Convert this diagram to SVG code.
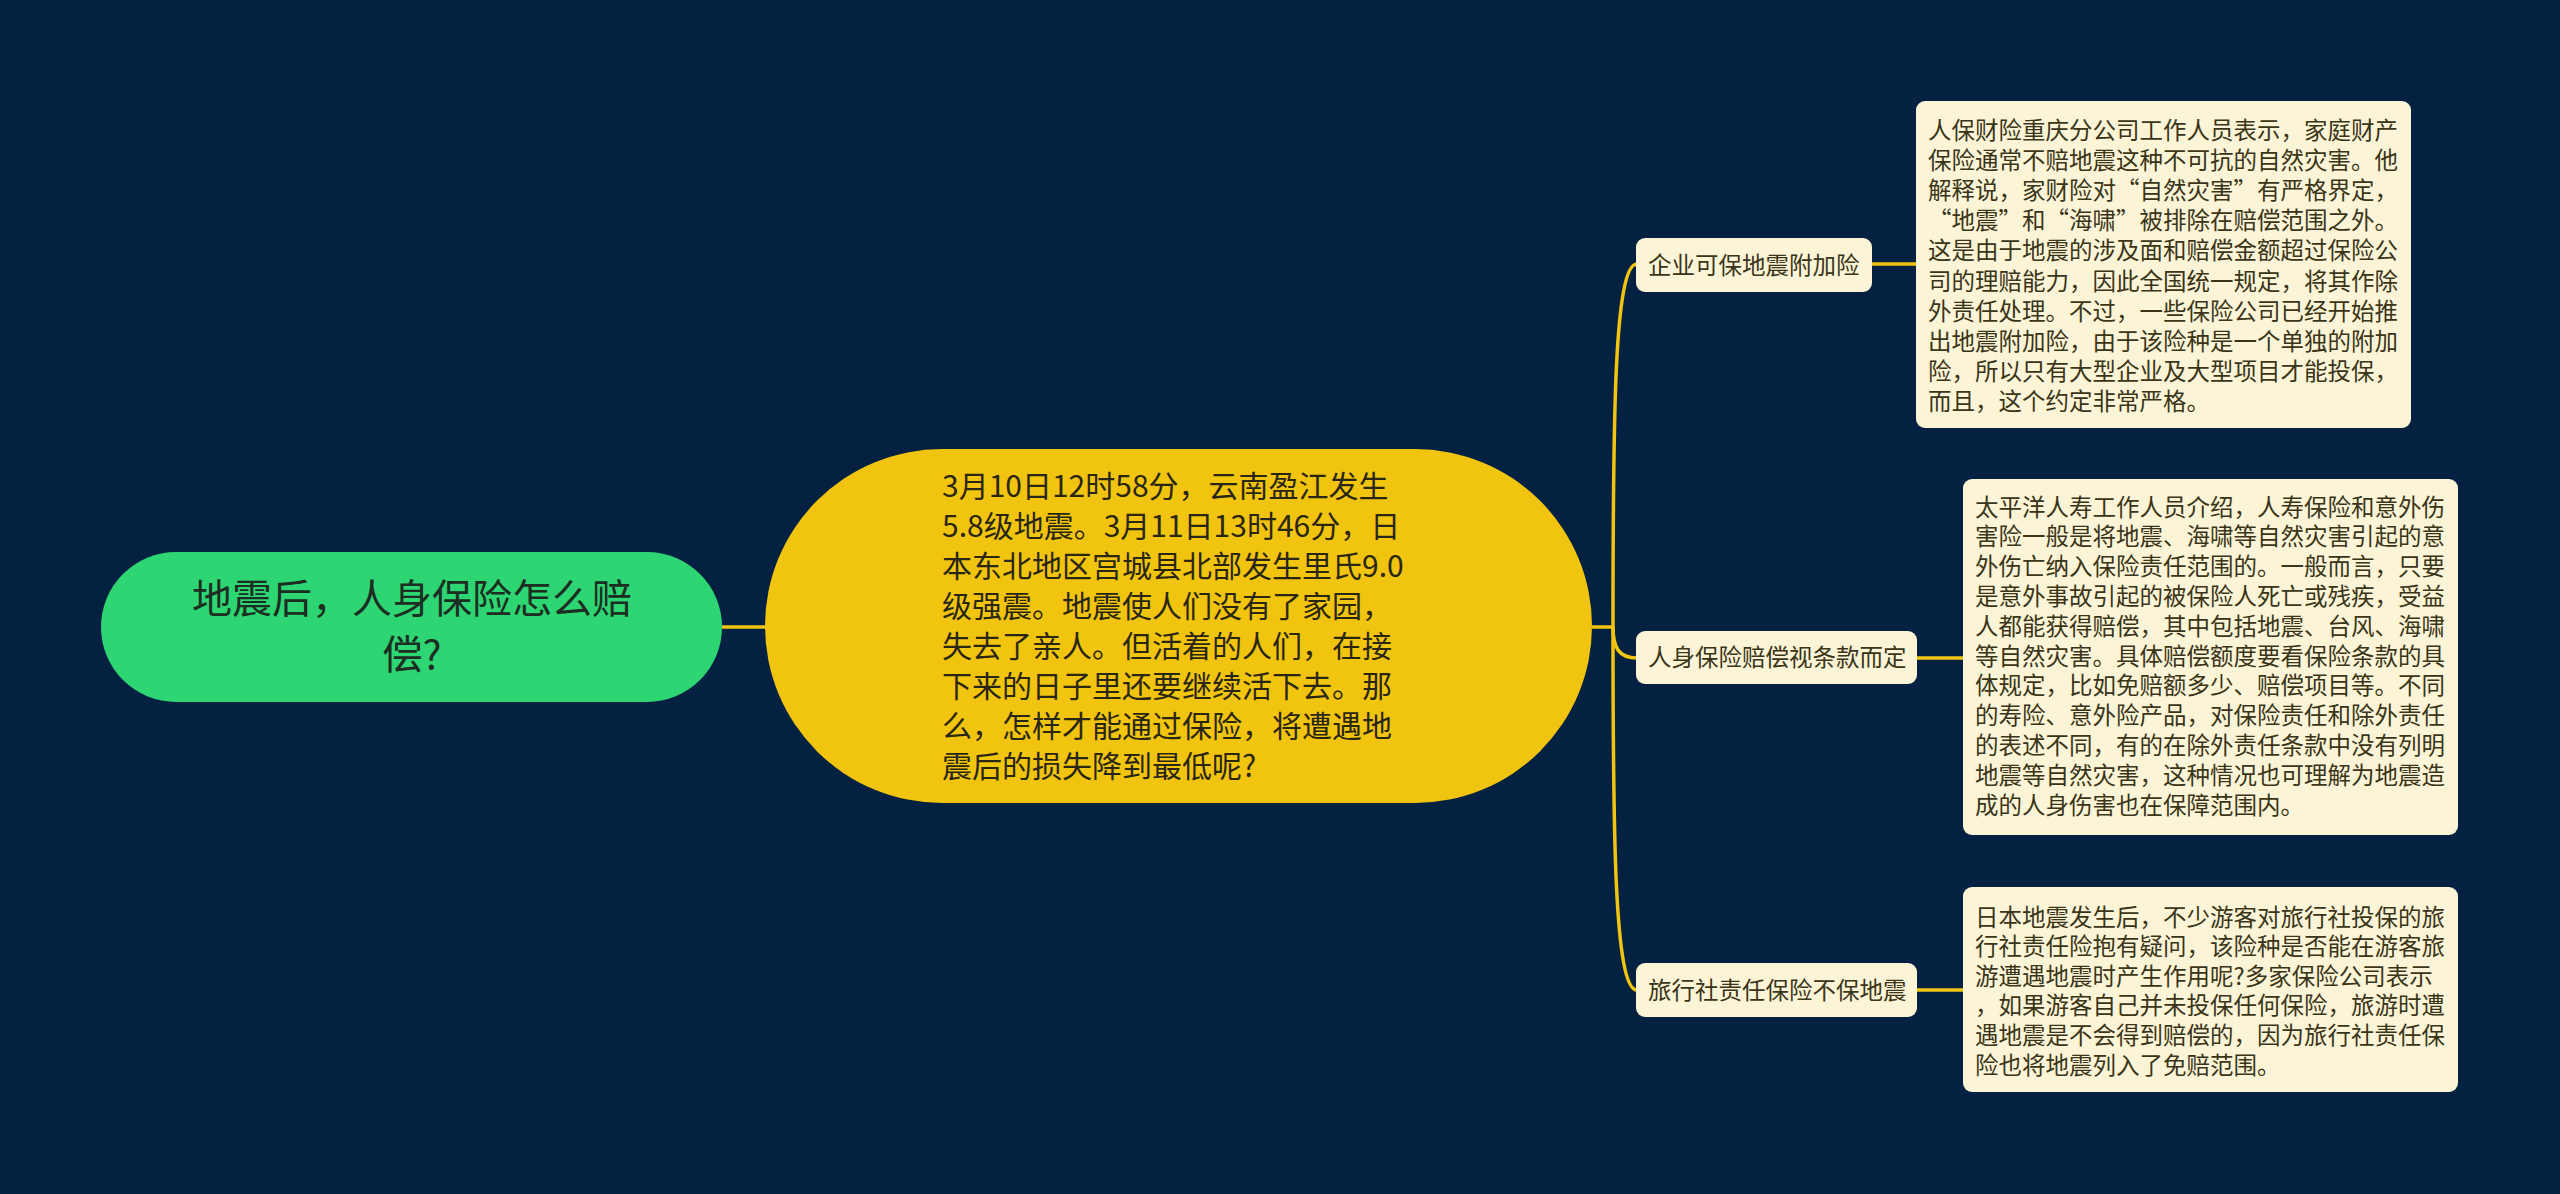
<svg xmlns="http://www.w3.org/2000/svg" width="2560" height="1194" viewBox="0 0 2560 1194">
<style>
text{font-family:"Noto Sans CJK SC","Noto Sans",sans-serif}
.conn{fill:none;stroke:#f1c40f;stroke-width:3.5}
.root{fill:#2ed573}
.rt{font-size:40px;fill:#1c2e22;text-anchor:middle}
.center{fill:#f1c40f}
.ct{font-size:30px;fill:#2a2614}
.box{fill:#fcf4d6}
.bt{font-size:23.5px;fill:#3a3418}
</style>
<rect x="0" y="0" width="2560" height="1194" fill="#042141"/>
<g id="connectors">
<path class="conn" d="M722,627 L767,627"/>
<path class="conn" d="M1592,627 L1613,627"/>
<path class="conn" d="M1613,627 C1613,420 1614,264 1637,264"/>
<path class="conn" d="M1613,627 C1613,648 1619,658 1637,658"/>
<path class="conn" d="M1613,627 C1613,830 1614,990 1637,990"/>
<path class="conn" d="M1872,264 L1916,264"/>
<path class="conn" d="M1917,658 L1963,658"/>
<path class="conn" d="M1917,990 L1963,990"/>
</g>
<g id="root">
<rect class="root" x="101" y="552" width="621" height="150" rx="75"/>
<text class="rt" x="412" y="613">地震后，人身保险怎么赔</text>
<text class="rt" x="412" y="669">偿?</text>
</g>
<g id="center">
<rect class="center" x="765" y="449" width="827" height="354" rx="177"/>
<text class="ct" x="942" y="497">3月10日12时58分，云南盈江发生</text>
<text class="ct" x="942" y="537">5.8级地震。3月11日13时46分，日</text>
<text class="ct" x="942" y="577">本东北地区宫城县北部发生里氏9.0</text>
<text class="ct" x="942" y="617">级强震。地震使人们没有了家园，</text>
<text class="ct" x="942" y="657">失去了亲人。但活着的人们，在接</text>
<text class="ct" x="942" y="697">下来的日子里还要继续活下去。那</text>
<text class="ct" x="942" y="737">么，怎样才能通过保险，将遭遇地</text>
<text class="ct" x="942" y="777">震后的损失降到最低呢?</text>
</g>
<g id="branch1">
<rect class="box" x="1636" y="238" width="236" height="54" rx="9"/>
<text class="bt" x="1648" y="273.5">企业可保地震附加险</text>
</g>
<g id="branch2">
<rect class="box" x="1636" y="631" width="281" height="53" rx="9"/>
<text class="bt" x="1648" y="666">人身保险赔偿视条款而定</text>
</g>
<g id="branch3">
<rect class="box" x="1636" y="963" width="281" height="54" rx="9"/>
<text class="bt" x="1648" y="998.5">旅行社责任保险不保地震</text>
</g>
<g id="detail1">
<rect class="box" x="1916" y="101" width="495" height="327" rx="9"/>
<text class="bt" x="1928" y="138.5">人保财险重庆分公司工作人员表示，家庭财产</text>
<text class="bt" x="1928" y="168.7">保险通常不赔地震这种不可抗的自然灾害。他</text>
<text class="bt" x="1928" y="198.9">解释说，家财险对“自然灾害”有严格界定，</text>
<text class="bt" x="1928" y="229.1">“地震”和“海啸”被排除在赔偿范围之外。</text>
<text class="bt" x="1928" y="259.3">这是由于地震的涉及面和赔偿金额超过保险公</text>
<text class="bt" x="1928" y="289.5">司的理赔能力，因此全国统一规定，将其作除</text>
<text class="bt" x="1928" y="319.7">外责任处理。不过，一些保险公司已经开始推</text>
<text class="bt" x="1928" y="349.9">出地震附加险，由于该险种是一个单独的附加</text>
<text class="bt" x="1928" y="380.1">险，所以只有大型企业及大型项目才能投保，</text>
<text class="bt" x="1928" y="410.3">而且，这个约定非常严格。</text>
</g>
<g id="detail2">
<rect class="box" x="1963" y="479" width="495" height="356" rx="9"/>
<text class="bt" x="1975" y="515.5">太平洋人寿工作人员介绍，人寿保险和意外伤</text>
<text class="bt" x="1975" y="545.3">害险一般是将地震、海啸等自然灾害引起的意</text>
<text class="bt" x="1975" y="575.1">外伤亡纳入保险责任范围的。一般而言，只要</text>
<text class="bt" x="1975" y="604.9">是意外事故引起的被保险人死亡或残疾，受益</text>
<text class="bt" x="1975" y="634.7">人都能获得赔偿，其中包括地震、台风、海啸</text>
<text class="bt" x="1975" y="664.5">等自然灾害。具体赔偿额度要看保险条款的具</text>
<text class="bt" x="1975" y="694.3">体规定，比如免赔额多少、赔偿项目等。不同</text>
<text class="bt" x="1975" y="724.1">的寿险、意外险产品，对保险责任和除外责任</text>
<text class="bt" x="1975" y="753.9">的表述不同，有的在除外责任条款中没有列明</text>
<text class="bt" x="1975" y="783.7">地震等自然灾害，这种情况也可理解为地震造</text>
<text class="bt" x="1975" y="813.5">成的人身伤害也在保障范围内。</text>
</g>
<g id="detail3">
<rect class="box" x="1963" y="887" width="495" height="205" rx="9"/>
<text class="bt" x="1975" y="925.5">日本地震发生后，不少游客对旅行社投保的旅</text>
<text class="bt" x="1975" y="955.1">行社责任险抱有疑问，该险种是否能在游客旅</text>
<text class="bt" x="1975" y="984.7">游遭遇地震时产生作用呢?多家保险公司表示</text>
<text class="bt" x="1975" y="1014.3">，如果游客自己并未投保任何保险，旅游时遭</text>
<text class="bt" x="1975" y="1043.9">遇地震是不会得到赔偿的，因为旅行社责任保</text>
<text class="bt" x="1975" y="1073.5">险也将地震列入了免赔范围。</text>
</g>
</svg>
